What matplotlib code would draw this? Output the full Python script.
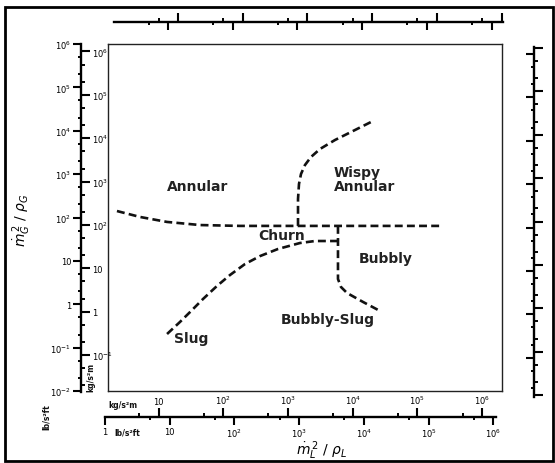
import numpy as np
import matplotlib.pyplot as plt
from matplotlib.ticker import LogLocator, FixedLocator, FuncFormatter, NullFormatter
from matplotlib.patches import Rectangle

W, H = 555, 464          # figure size in pixels
LB_TO_KG = 1.488         # 1 lb/(ft s^2) = 1.488 kg/(m s^2)
DEC_X = 64.7             # pixels per decade, horizontal
DEC_Y = 43.375           # pixels per decade, vertical

# flow regime boundaries, x = rho_L j_L^2, y = rho_G j_G^2 (lb/ft s^2)
annular_x = [1.53, 3.47, 9.1, 29.4, 122, 1.5e5]
annular_y = [141, 103, 79, 67, 64, 64]
wispy_x = [962, 962, 996, 1070, 1233, 1527, 2100, 3590, 6810, 13900]
wispy_y = [64, 267, 592, 1007, 1622, 2483, 3790, 6120, 9860, 16800]
slug_x = [9.1, 14.4, 20.6, 32.7, 53.8, 85.5, 146, 249, 472, 1030, 1760, 3990]
slug_y = [0.206, 0.39, 0.66, 1.32, 2.64, 4.72, 8.47, 12.9, 18.8, 25.8, 28.7, 28.7]
bubbly_x = [3990, 3990, 3990, 4440, 5500, 9720, 17800]
bubbly_y = [64, 9.93, 3.82, 2.5, 1.82, 1.13, 0.70]

region_names = ['Annular', 'Wispy\nAnnular', 'Churn', 'Bubbly', 'Bubbly-Slug', 'Slug']
region_x = [27.4, 3460, 544, 22000, 2800, 21.3]
region_y = [532, 773, 39.5, 11.5, 0.457, 0.164]
region_ha = ['center', 'left', 'center', 'center', 'center', 'center']

fig = plt.figure(figsize=(W / 100, H / 100), dpi=100)


def px_ax(x0, y0, x1, y1):
    # axes from pixel box (y measured from the top)
    return fig.add_axes([x0 / W, 1 - y1 / H, (x1 - x0) / W, (y1 - y0) / H])


def pow_label(v, pos):
    e = int(round(np.log10(v)))
    if e == 0:
        return '1'
    if e == 1:
        return '10'
    return r'$10^{%d}$' % e


def decades(lo, hi):
    # only the decades that fall inside the ruler
    e = np.arange(np.ceil(np.log10(lo) - 1e-9), np.floor(np.log10(hi) + 1e-9) + 1)
    return 10.0 ** e


def ruler(x0, y0, x1, y1, ref1, ref2, dec, vertical, lab1=False, lab2=False, subs=(2, 5)):
    """
    double sided log ruler, ref1/ref2 = pixel of the value 1 on each side
    """
    ax = px_ax(x0, y0, x1, y1)
    twin = ax.twinx() if vertical else ax.twiny()
    for a, ref, lab in ((ax, ref1, lab1), (twin, ref2, lab2)):
        for s in a.spines.values():
            s.set_visible(False)
        a.patch.set_visible(False)
        if vertical:
            lo, hi = 10 ** ((ref - y1) / dec), 10 ** ((ref - y0) / dec)
            a.set_yscale('log')
            a.set_ylim(lo, hi)
            a.set_xticks([])
            axis = a.yaxis
        else:
            lo, hi = 10 ** ((x0 - ref) / dec), 10 ** ((x1 - ref) / dec)
            a.set_xscale('log')
            a.set_xlim(lo, hi)
            a.set_yticks([])
            axis = a.xaxis
        axis.set_major_locator(FixedLocator(decades(lo, hi)))
        axis.set_minor_locator(LogLocator(10, subs=subs, numticks=30))
        axis.set_major_formatter(FuncFormatter(pow_label) if lab else NullFormatter())
        axis.set_minor_formatter(NullFormatter())
        a.tick_params(which='major', length=5.5, width=1.5, labelsize=6, pad=1.5)
        a.tick_params(which='minor', length=2.5, width=1.4)
    if vertical:
        ax.spines['left'].set_visible(True)
        ax.spines['left'].set_linewidth(1.7)
        ax.yaxis.set_ticks_position('left')
        twin.yaxis.set_ticks_position('right')
    else:
        ax.spines['bottom'].set_visible(True)
        ax.spines['bottom'].set_linewidth(1.7)
        ax.xaxis.set_ticks_position('bottom')
        twin.xaxis.set_ticks_position('top')
    return ax, twin


# main map
ax = px_ax(108, 45, 502, 392)
ax.set_xscale('log')
ax.set_yscale('log')
ax.set_xlim(10 ** ((108 - 105) / DEC_X), 10 ** ((502 - 105) / DEC_X))
ax.set_ylim(1e-2, 1e6)
ax.set_xticks([])
ax.set_yticks([])
ax.minorticks_off()
for s in ax.spines.values():
    s.set_linewidth(1.0)
    s.set_color('#222222')

dash = dict(color='#111111', lw=1.9, linestyle=(0, (3, 1.6)))
ax.plot(annular_x, annular_y, **dash)
ax.plot(wispy_x, wispy_y, **dash)
ax.plot(slug_x, slug_y, **dash)
ax.plot(bubbly_x, bubbly_y, **dash)

for name, x, y, ha in zip(region_names, region_x, region_y, region_ha):
    ax.text(x, y, name, ha=ha, va='center', fontsize=10, fontweight='bold',
            color='#222222', linespacing=1.0)

# left ruler: lb/ft s^2 outside, kg/s^2 m inside
ref_lb = 45 + 6 * DEC_Y
ruler(81, 44.5, 82, 392.5, ref_lb, ref_lb + DEC_Y * np.log10(LB_TO_KG), DEC_Y,
      True, lab1=True, lab2=True)

# bottom ruler: kg above, lb below
ruler(104.5, 417, 496, 418, 105, 105 - DEC_X * np.log10(LB_TO_KG), DEC_X,
      False, lab1=True, lab2=True, subs=(5,))

# top ruler, no labels
ruler(114, 22, 503, 23, 168, 178, DEC_X, False, subs=(5,))

# right ruler, no labels
ruler(534, 48, 535, 398, 55, 49, DEC_Y, True)

unit = dict(fontsize=5.5, fontweight='bold', color='#111111')
fig.text(108 / W, 1 - 406 / H, 'kg/s²m', ha='left', va='center', **unit)
fig.text(114 / W, 1 - 433 / H, 'lb/s²ft', ha='left', va='center', **unit)
fig.text(46 / W, 1 - 417 / H, 'lb/s²ft', ha='center', va='center', rotation=90, **unit)
fig.text(91 / W, 1 - 377 / H, 'kg/s²m', ha='center', va='center', rotation=90, **unit)

fig.text(22 / W, 1 - 220 / H, r'$\dot{m}_G^{\,2}\ /\ \rho_G$', ha='center', va='center',
         rotation=90, fontsize=10)
fig.text(322 / W, 1 - 451 / H, r'$\dot{m}_L^{\,2}\ /\ \rho_L$', ha='center', va='center',
         fontsize=10)

# outer frame
fig.patches.append(Rectangle((5 / W, 1 - 462 / H), 548 / W, 454 / H, transform=fig.transFigure,
                             fill=False, lw=2, color='black'))

fig.savefig('out.png', dpi=100)
